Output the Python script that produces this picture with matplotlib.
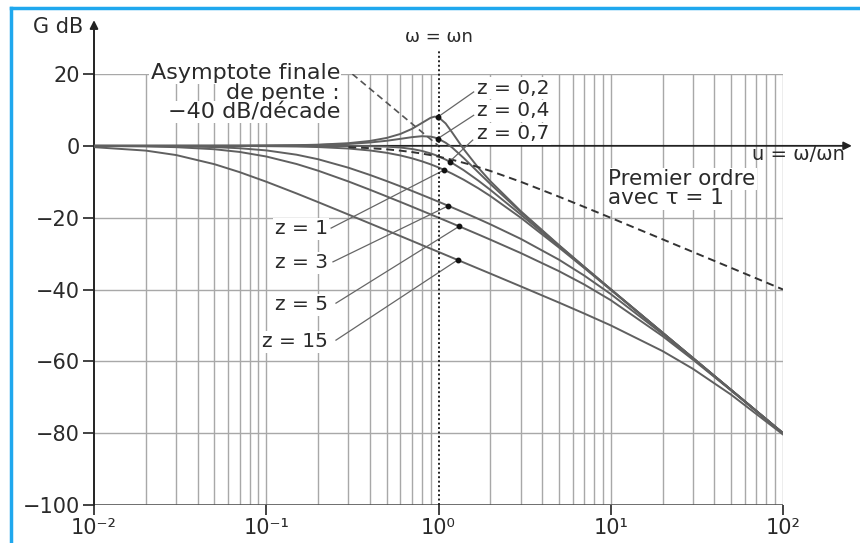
import numpy as np
import matplotlib.pyplot as plt
from matplotlib.lines import Line2D

## values (u = w/wn, gain in dB)
u = [0.01, 0.02, 0.03, 0.05, 0.07, 0.1, 0.15, 0.2, 0.3, 0.4, 0.5, 0.6, 0.7, 0.8, 0.9, 0.95,
     1.0, 1.1, 1.2, 1.4, 1.7, 2, 3, 5, 7, 10, 20, 30, 50, 100]

g_z02 = [0.0, 0.0, 0.01, 0.02, 0.04, 0.08, 0.18, 0.32, 0.74, 1.36, 2.20, 3.30, 4.70, 6.35, 7.81, 8.13,
         7.96, 6.24, 3.73, -0.92, -6.06, -9.84, -18.16, -27.63, -33.64, -39.92, -52.02, -59.08, -67.96, -80.0]
g_z04 = [0.0, 0.0, 0.01, 0.02, 0.03, 0.06, 0.13, 0.24, 0.53, 0.93, 1.41, 1.94, 2.41, 2.68, 2.56, 2.31,
         1.94, 0.87, -0.47, -3.38, -7.34, -10.63, -18.44, -27.72, -33.68, -39.94, -52.03, -59.08, -67.96, -80.0]
g_z07 = [0.0, 0.0, 0.0, 0.0, 0.0, 0.0, 0.0, 0.0, -0.02, -0.08, -0.22, -0.47, -0.87, -1.41, -2.11, -2.50,
         -2.92, -3.83, -4.79, -6.78, -9.66, -12.26, -19.12, -27.96, -33.80, -40.0, -52.04, -59.08, -67.96, -80.0]
g_z1 = [0.0, 0.0, -0.01, -0.02, -0.04, -0.09, -0.19, -0.34, -0.75, -1.29, -1.94, -2.67, -3.46, -4.30, -5.15, -5.59,
        -6.02, -6.89, -7.75, -9.43, -11.80, -13.98, -20.0, -28.30, -33.98, -40.09, -52.06, -59.09, -67.96, -80.0]
g_z3 = [-0.02, -0.06, -0.13, -0.35, -0.67, -1.27, -2.47, -3.73, -6.09, -8.11, -9.81, -11.26, -12.53, -13.65, -14.65, -15.12,
        -15.56, -16.39, -17.16, -18.54, -20.32, -21.85, -25.89, -31.69, -36.09, -41.27, -52.40, -59.25, -68.02, -80.02]
g_z5 = [-0.04, -0.17, -0.37, -0.95, -1.70, -2.97, -5.06, -6.92, -9.92, -12.23, -14.08, -15.61, -16.92, -18.07, -19.09, -19.56,
        -20.0, -20.83, -21.59, -22.94, -24.66, -26.12, -29.84, -34.88, -38.58, -42.97, -52.99, -59.53, -68.13, -80.04]
g_z15 = [-0.37, -1.33, -2.57, -5.11, -7.32, -9.99, -13.26, -15.67, -19.13, -21.61, -23.53, -25.11, -26.45, -27.61, -28.63, -29.10,
         -29.54, -30.37, -31.13, -32.47, -34.16, -35.57, -39.12, -43.63, -46.67, -49.99, -57.15, -62.09, -69.29, -80.37]

# premier ordre, tau = 1 (dashed)
u1 = [0.3, 0.4, 0.5, 0.6, 0.7, 0.8, 0.9, 1.0, 1.2, 1.5, 2, 3, 5, 7, 10, 20, 30, 50, 100]
g1 = [-0.37, -0.65, -0.97, -1.34, -1.73, -2.15, -2.58, -3.01, -3.87, -5.12, -6.99, -10.0, -14.15, -16.99,
      -20.04, -26.03, -29.55, -33.98, -40.0]

# asymptote -40 dB/decade
u_asym = [0.316, 1.0]
g_asym = [20, 0]

curves = [g_z02, g_z04, g_z07, g_z1, g_z3, g_z5, g_z15]
z_labels = ["z = 0,2", "z = 0,4", "z = 0,7", "z = 1", "z = 3", "z = 5", "z = 15"]
# dot on each curve where the label line ends
dot_u = [0.99, 0.99, 1.16, 1.08, 1.14, 1.32, 1.29]
dot_g = [8.0, 2.0, -4.4, -6.7, -16.7, -22.4, -31.8]

y_ticks = [20, 0, -20, -40, -60, -80, -100]
y_tick_labels = ["20", "0", "\u221220", "\u221240", "\u221260", "\u221280", "\u2212100"]
x_ticks = [0.01, 0.1, 1, 10, 100]
x_tick_labels = ["10\u207b\u00b2", "10\u207b\u00b9", "10\u2070", "10\u00b9", "10\u00b2"]

plt.rcParams['font.family'] = ['DejaVu Sans']
plt.rcParams['font.size'] = 14.5
plt.rcParams['text.color'] = '#2a2a2a'

W, H = 860, 543
fig = plt.figure(figsize=(W / 100, H / 100), dpi=100)
ax = fig.add_axes([94 / W, (H - 505) / H, (783 - 94) / W, (505 - 74) / H])
ax.set_xscale('log')
ax.set_xlim(0.01, 100)
ax.set_ylim(-100, 20)
for s in ax.spines.values():
    s.set_visible(False)

grid_c = '#a8a8a8'
curve_c = '#606060'
axis_c = '#222222'
box = dict(facecolor='white', edgecolor='none', pad=1.0)

# grid
vx = [k * 10.0 ** n for n in range(-2, 2) for k in range(2, 10)] + [0.1, 10, 100]
ax.vlines(vx, -100, 20, color=grid_c, lw=1.0, zorder=1)
ax.hlines([20, -20, -40, -60, -80], 0.01, 100, color=grid_c, lw=1.0, zorder=1)
ax.hlines(-100, 0.01, 100, color='#555555', lw=1.2, zorder=2)

# axes with arrows
ax.annotate('', xy=(0.01, 35), xytext=(0.01, -100), annotation_clip=False,
            arrowprops=dict(arrowstyle='-|>', color=axis_c, lw=1.4, mutation_scale=12, shrinkA=0, shrinkB=0))
ax.annotate('', xy=(251, 0), xytext=(0.01, 0), annotation_clip=False,
            arrowprops=dict(arrowstyle='-|>', color=axis_c, lw=1.3, mutation_scale=12, shrinkA=0, shrinkB=0))

# w = wn dotted line
ax.plot([1, 1], [-100, 27], color=axis_c, lw=1.4, ls=(0, (1, 1.3)), clip_on=False, zorder=5)
ax.text(1, 30.3, "\u03c9 = \u03c9n", ha='center', va='center', fontsize=13)

# curves
for g in curves:
    ax.plot(u, g, color=curve_c, lw=1.4, zorder=4)
ax.plot(u1, g1, color='#333333', lw=1.4, ls=(0, (4, 2.5)), zorder=4)
ax.plot(u_asym, g_asym, color='#555555', lw=1.2, ls=(0, (4, 2.5)), zorder=4)

# z labels with leader lines
lab_u = [1.673, 1.673, 1.673, 0.228, 0.228, 0.228, 0.228]
lab_g = [16.1, 9.7, 3.4, -23.15, -32.6, -44.3, -54.6]
lead_u = [1.60, 1.60, 1.58, 0.238, 0.244, 0.254, 0.254]
lead_g = [15.0, 8.5, 1.6, -22.9, -32.3, -43.8, -54.1]
for i in range(len(z_labels)):
    ha = 'left' if i < 3 else 'right'
    ax.text(lab_u[i], lab_g[i], z_labels[i], ha=ha, va='center', bbox=box, zorder=3)
    ax.plot([lead_u[i], dot_u[i]], [lead_g[i], dot_g[i]], color='#666666', lw=0.9, zorder=4)
ax.plot(dot_u, dot_g, 'o', color='#111111', ms=3.2, zorder=6)

# other texts
big = 16
ax.text(0.268, 20.3, "Asymptote finale", ha='right', va='center', bbox=box, zorder=3, fontsize=big)
ax.text(0.268, 14.8, "de pente :", ha='right', va='center', bbox=box, zorder=3, fontsize=big)
ax.text(0.268, 9.4, "\u221240 dB/d\u00e9cade", ha='right', va='center', bbox=box, zorder=3, fontsize=big)
ax.text(9.64, -9.2, "Premier ordre", ha='left', va='center', bbox=box, zorder=3, fontsize=15.5)
ax.text(9.64, -14.6, "avec \u03c4 = 1", ha='left', va='center', bbox=box, zorder=3, fontsize=15.5)
ax.text(229, -2.3, "u = \u03c9/\u03c9n", ha='right', va='center', fontsize=14, zorder=7)
ax.text(0.0087, 33.1, "G dB", ha='right', va='center', fontsize=15)

# ticks
ax.set_xticks(x_ticks)
ax.set_xticklabels(x_tick_labels)
ax.minorticks_off()
ax.set_yticks(y_ticks)
ax.set_yticklabels(y_tick_labels, fontsize=15)
ax.tick_params(axis='both', direction='out', color=axis_c, width=1.2, labelcolor='#2a2a2a')
ax.tick_params(axis='x', length=7, pad=2, labelsize=15)
ax.tick_params(axis='y', length=8, pad=2)

# blue frame of the page
fig.add_artist(Line2D([11 / W, 1], [1 - 8 / H, 1 - 8 / H], color='#1fa8ee', lw=2.5))
fig.add_artist(Line2D([11 / W, 11 / W], [0, 1 - 8 / H], color='#1fa8ee', lw=2.5))

fig.savefig('out.png', dpi=100)
